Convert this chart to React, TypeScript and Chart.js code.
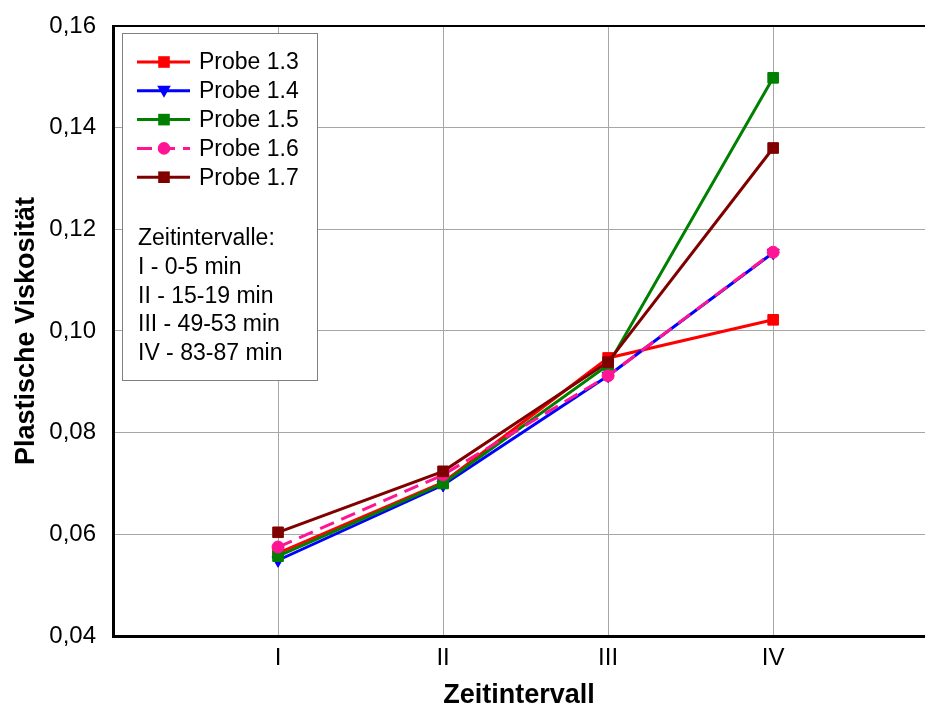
import React, { useEffect, useRef } from 'react';
import { Chart, registerables } from 'chart.js';

Chart.register(...registerables);

const categories = ['I', 'II', 'III', 'IV'];
const seriesNames = ['Probe 1.3', 'Probe 1.4', 'Probe 1.5', 'Probe 1.6', 'Probe 1.7'];
const probe13 = [0.0563, 0.0702, 0.0947, 0.1022];
const probe14 = [0.0549, 0.0697, 0.0912, 0.1154];
const probe15 = [0.0557, 0.07, 0.0933, 0.1498];
const probe16 = [0.0575, 0.0717, 0.0912, 0.1155];
const probe17 = [0.0604, 0.0724, 0.0939, 0.136];
const yTickValues = [0.04, 0.06, 0.08, 0.1, 0.12, 0.14, 0.16];
const noteLines = ['Zeitintervalle:', 'I - 0-5 min', 'II - 15-19 min', 'III - 49-53 min', 'IV - 83-87 min'];

const seriesValues = [probe13, probe14, probe15, probe16, probe17];
const colors = ['#FF0000', '#0000FF', '#008000', '#FF1493', '#800000'];
const pointStyles = ['rect', 'triangle', 'rect', 'circle', 'rect'];
const FONT = "'Liberation Sans', Arial, Helvetica, sans-serif";

function drawMarker(ctx: CanvasRenderingContext2D, style: string, x: number, y: number, color: string) {
  ctx.save();
  ctx.fillStyle = color;
  ctx.setLineDash([]);
  ctx.beginPath();
  if (style === 'rect') {
    ctx.rect(x - 5.8, y - 5.8, 11.6, 11.6);
  } else if (style === 'triangle') {
    ctx.moveTo(x - 6.8, y - 5);
    ctx.lineTo(x + 6.8, y - 5);
    ctx.lineTo(x, y + 7);
    ctx.closePath();
  } else {
    ctx.arc(x, y, 6.3, 0, Math.PI * 2);
  }
  ctx.fill();
  ctx.restore();
}

const framePlugin = {
  id: 'frameAndLegend',
  beforeDatasetsDraw(chart: any) {
    const { ctx, chartArea } = chart;
    ctx.save();
    ctx.strokeStyle = '#000';
    ctx.lineWidth = 2;
    ctx.beginPath();
    ctx.moveTo(chartArea.left, chartArea.top);
    ctx.lineTo(chartArea.right, chartArea.top);
    ctx.stroke();
    ctx.restore();
  },
  afterDraw(chart: any) {
    const { ctx, chartArea } = chart;
    const bx = chartArea.left + 9;
    const by = chartArea.top + 7;
    const bw = 195;
    const bh = 347;
    ctx.save();
    ctx.fillStyle = '#FFFFFF';
    ctx.fillRect(bx, by, bw, bh);
    ctx.strokeStyle = '#808080';
    ctx.lineWidth = 1;
    ctx.strokeRect(bx + 0.5, by + 0.5, bw, bh);
    ctx.font = `23px ${FONT}`;
    ctx.textBaseline = 'middle';
    ctx.textAlign = 'left';
    chart.data.datasets.forEach((ds: any, i: number) => {
      const y = by + 29 + i * 28.8;
      ctx.save();
      ctx.strokeStyle = ds.borderColor;
      ctx.lineWidth = 3;
      ctx.setLineDash(ds.borderDash || []);
      ctx.beginPath();
      ctx.moveTo(bx + 15, y);
      ctx.lineTo(bx + 68, y);
      ctx.stroke();
      ctx.restore();
      drawMarker(ctx, ds.pointStyle, bx + 42, y, ds.borderColor);
      ctx.fillStyle = '#000';
      ctx.fillText(ds.label, bx + 77, y + 1);
    });
    noteLines.forEach((line, i) => {
      ctx.fillStyle = '#000';
      ctx.fillText(line, bx + 16, by + 206 + i * 28.7);
    });
    ctx.restore();
  },
};

export default function App() {
  const canvasRef = useRef<HTMLCanvasElement | null>(null);

  useEffect(() => {
    if (!canvasRef.current) return;
    const datasets = seriesNames.map((name, i) => ({
      label: name,
      data: seriesValues[i].map((v, j) => ({ x: j + 1, y: v })),
      borderColor: colors[i],
      backgroundColor: colors[i],
      pointBackgroundColor: colors[i],
      pointBorderColor: colors[i],
      borderWidth: 3,
      borderDash: i === 3 ? [15, 8] : [],
      pointStyle: pointStyles[i],
      pointRadius: pointStyles[i] === 'rect' ? 7.5 : pointStyles[i] === 'triangle' ? 7 : 6,
      pointRotation: pointStyles[i] === 'triangle' ? 180 : 0,
      pointBorderWidth: 1,
      tension: 0,
      order: seriesNames.length - 1 - i,
    }));

    const chart = new Chart(canvasRef.current, {
      type: 'line',
      data: { datasets },
      plugins: [framePlugin],
      options: {
        animation: false,
        responsive: true,
        maintainAspectRatio: false,
        layout: { autoPadding: false, padding: { top: 26, right: 0, bottom: 0, left: 0 } },
        plugins: {
          legend: { display: false },
          tooltip: { enabled: false },
        },
        scales: {
          x: {
            type: 'linear',
            min: 0,
            max: 4.92,
            afterBuildTicks: (scale: any) => {
              scale.ticks = categories.map((_, i) => ({ value: i + 1 }));
            },
            afterFit: (scale: any) => {
              scale.height = 70;
              scale.paddingLeft = 0;
              scale.paddingRight = 0;
            },
            ticks: {
              color: '#000',
              font: { family: FONT, size: 24 },
              padding: 8,
              callback: (v: any) => categories[Math.round(Number(v)) - 1] ?? '',
            },
            grid: { color: '#A6A6A6', lineWidth: 1, drawTicks: false },
            border: { color: '#000', width: 3 },
            title: {
              display: true,
              text: 'Zeitintervall',
              color: '#000',
              font: { family: FONT, size: 27, weight: 'bold', lineHeight: 0.8 },
              padding: { top: 0, bottom: 0 },
            },
          },
          y: {
            type: 'linear',
            min: 0.04,
            max: 0.16,
            afterBuildTicks: (scale: any) => {
              scale.ticks = yTickValues.map((v) => ({ value: v }));
            },
            afterFit: (scale: any) => {
              scale.width = 113;
              scale.paddingTop = 0;
              scale.paddingBottom = 0;
            },
            ticks: {
              color: '#000',
              font: { family: FONT, size: 24 },
              padding: 17,
              callback: (v: any) => Number(v).toFixed(2).replace('.', ','),
            },
            grid: { color: '#A6A6A6', lineWidth: 1, drawTicks: false },
            border: { color: '#000', width: 3 },
            title: {
              display: true,
              text: 'Plastische Viskosität',
              color: '#000',
              font: { family: FONT, size: 27, weight: 'bold', lineHeight: 1 },
              padding: { top: 13, bottom: 0 },
            },
          },
        },
      },
    } as any);
    return () => chart.destroy();
  }, []);

  return (
    <div style={{ position: 'absolute', left: 0, top: 0, width: 925, height: 706, overflow: 'hidden', background: '#fff' }}>
      <canvas ref={canvasRef} style={{ display: 'block' }} />
    </div>
  );
}
